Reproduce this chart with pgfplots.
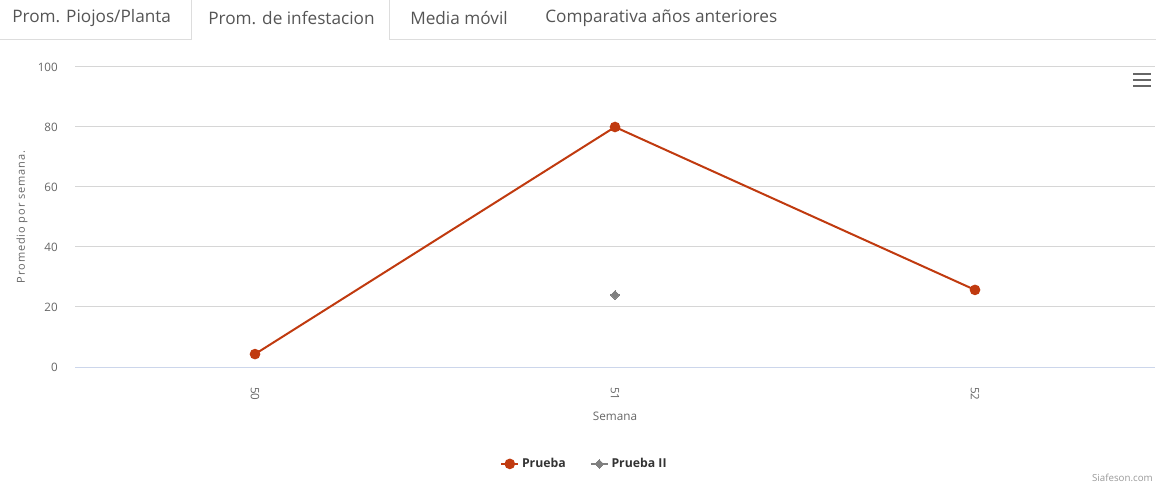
\documentclass[border=0pt]{standalone}
\usepackage{fontspec}
\setmainfont{Open Sans}
\usepackage{pgfplots}
\pgfplotsset{compat=1.18}
\definecolor{serA}{HTML}{C03A0F}
\definecolor{serB}{HTML}{808080}
\definecolor{gridc}{HTML}{D6D6D6}
\definecolor{hcaxis}{HTML}{CCD6EB}
\definecolor{labc}{HTML}{666666}
\definecolor{legc}{HTML}{333333}
\definecolor{tabc}{HTML}{555555}
\definecolor{tabb}{HTML}{DDDDDD}
\begin{document}
\begin{tikzpicture}[x=0.75pt,y=0.75pt]
\path[use as bounding box] (0,0) rectangle (1156,489);
% tabs
\draw[tabb,line width=0.75pt] (0,449) -- (191.5,449) -- (191.5,489);
\draw[tabb,line width=0.75pt] (389.5,489) -- (389.5,449) -- (1156,449);
\tikzset{tabtxt/.style={anchor=west,inner sep=0pt,text=tabc,font=\fontsize{12.9pt}{14pt}\selectfont}}
\node[tabtxt] at (12,470.5) {Prom. Piojos/Planta};
\node[tabtxt] at (208,470.5) {Prom. de infestacion};
\node[tabtxt] at (410,470.5) {Media móvil};
\node[tabtxt] at (545,470.5) {Comparativa años anteriores};
% menu icon
\draw[labc,line width=1.6pt] (1133,415) -- (1151,415);
\draw[labc,line width=1.6pt] (1133,409) -- (1151,409);
\draw[labc,line width=1.6pt] (1133,403.3) -- (1151,403.3);
% credit
\node[anchor=east,inner sep=0pt,text=gray!80,font=\fontsize{7.3pt}{9pt}\selectfont] at (1153,11) {Siafeson.com};
\begin{axis}[
  at={(56.25pt,91.5pt)}, anchor=south west,
  scale only axis, width=810pt, height=225pt,
  xmin=-0.5, xmax=2.5, ymin=0, ymax=100,
  /pgf/number format/assume math mode=true,
  separate axis lines,
  axis x line*=bottom, axis y line*=left,
  x axis line style={draw=hcaxis,line width=0.75pt,-},
  y axis line style={draw=none},
  xtick={0,1,2}, xticklabels={50,51,52},
  xtick style={draw=none},
  extra x ticks={-0.5,0.5,1.5,2.5}, extra x tick labels={},
  extra x tick style={tick align=outside, major tick length=7.5pt,
     tick style={draw=hcaxis,line width=0.75pt}},
  ytick={0,20,40,60,80,100},
  ytick style={draw=none},
  ymajorgrids, grid style={draw=gridc,line width=0.75pt},
  ticklabel style={text=labc,font=\fontsize{8.7pt}{10pt}\selectfont},
  xticklabel style={rotate=-90,anchor=west,inner sep=0pt},
  xticklabel shift=15pt,
  yticklabel style={anchor=east,inner sep=0pt,xshift=-12.75pt},
  xlabel={Semana},
  xlabel style={text=labc,font=\fontsize{8.8pt}{10pt}\selectfont,at={(axis description cs:0.5,0)},anchor=center,yshift=-36.75pt},
  ylabel={\addfontfeatures{LetterSpace=8}Promedio por semana.},
  ylabel style={text=labc,font=\fontsize{8.25pt}{10pt}\selectfont,at={(axis description cs:0,0.5)},anchor=center,yshift=39.75pt},
  legend columns=2,
  legend style={draw=none,fill=none,at={(0.472,-0.323)},anchor=center,
     font=\bfseries\fontsize{9.2pt}{10pt}\selectfont,text=legc,
     /tikz/every even column/.append style={column sep=16pt}},
  legend image code/.code={\draw[mark repeat=2,mark phase=2,#1] plot coordinates {(0pt,0pt) (6.4pt,0pt) (12.8pt,0pt)};},
]
\addplot[serA,line width=1.5pt,mark=*,mark size=3.2pt,mark options={fill=serA,draw=serA}] coordinates {(0,4.3) (1,80) (2,25.7)};
\addlegendentry{Prueba}
\addplot[serB,line width=1.5pt,mark=square*,mark size=2.3pt,mark options={rotate=45,fill=serB,draw=serB,line width=0pt}] coordinates {(1,24)};
\addlegendentry{Prueba II}
\end{axis}
\end{tikzpicture}
\end{document}
